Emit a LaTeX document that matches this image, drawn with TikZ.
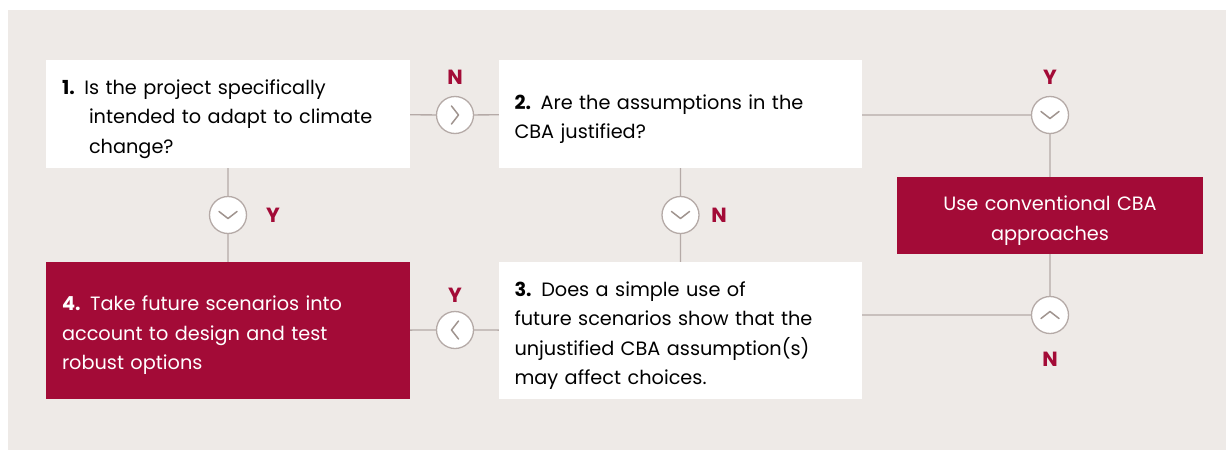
\documentclass[tikz,border=0pt]{standalone}
\usepackage{fontspec}
\setmainfont{Poppins}
\usetikzlibrary{positioning}
\definecolor{crimson}{HTML}{A30B37}
\definecolor{paper}{HTML}{EEEAE7}
\definecolor{wire}{HTML}{B5AAA7}
\definecolor{chev}{HTML}{A0948F}

\begin{document}
\begin{tikzpicture}[x=1pt,y=-1pt,
    qbox/.style={fill=white, minimum width=364pt, inner sep=0pt},
    abox/.style={qbox, fill=crimson},
    qtext/.style={align=left, text width=332pt, inner sep=0pt, yshift=-5pt,
      font=\fontsize{19.3}{29.5}\selectfont},
    atext/.style={qtext, text=white},
    gate/.style={circle, draw=wire, line width=1.3pt, fill=white, minimum size=37pt,
      inner sep=0pt, path picture={\draw[chev, line width=1.5pt, line cap=round,
        line join=round] (path picture bounding box.center) +(#1-111.3:9.66pt)
        -- +(#1:3.5pt) -- +(#1+111.3:9.66pt);}},
    yn/.style={text=crimson, font=\fontsize{20.5}{20.5}\selectfont\bfseries},
    wireline/.style={draw=wire, line width=1.3pt}]
  \useasboundingbox (0,0) rectangle (1232,450);
  \fill[paper] (8,10) rectangle (1226,450);

  % questions and answers
  \node[qbox, minimum height=108pt, label={[qtext]center:{\textbf{1.} Is the project
    specifically\\\hspace*{27pt}intended to adapt to climate\\\hspace*{27pt}change?}}]
    (q1) at (228,114) {};
  \node[qbox, minimum height=108pt, minimum width=363pt, label={[qtext]center:{%
    \textbf{2.} Are the assumptions in the\\CBA justified?}}] (q2) at (680.5,114) {};
  \node[qbox, minimum height=137pt, minimum width=363pt, label={[qtext]center:{%
    \textbf{3.} Does a simple use of\\future scenarios show that the\\unjustified
    CBA assumption(s)\\may affect choices.}}] (q3) at (680.5,330.5) {};
  \node[abox, minimum height=137pt, label={[atext]center:{\textbf{4.} Take future
    scenarios into\\account to design and test\\robust options}}] (a4) at (228,330.5) {};
  \node[abox, minimum width=306pt, minimum height=77pt, label={[atext, align=center,
    text width=274pt]center:{Use conventional CBA\\approaches}}] (conv) at (1050,215.5) {};

  % decision gates
  \node[gate=0] (g1) at (455,115) {};
  \node[gate=-90] (g2) at (1050,115) {};
  \node[gate=-90] (g3) at (228,215) {};
  \node[gate=-90] (g4) at (680.5,215) {};
  \node[gate=180] (g5) at (455,330) {};
  \node[gate=90] (g6) at (1050,315) {};

  \path[wireline] (q1) -- (g1) -- (q2)
    (q2.east|-g2) -- (g2) -- (conv)
    (q1) -- (g3) -- (a4)
    (q2) -- (g4) -- (q3)
    (q3) -- (g5) -- (a4)
    (q3.east|-g6) -- (g6) -- (conv);

  \node[yn] (l1) at (455,77) {N};
  \node[yn] (l2) at (1050,77) {Y};
  \node[yn] (l3) at (273,215) {Y};
  \node[yn] (l4) at (719,215) {N};
  \node[yn] (l5) at (455,295) {Y};
  \node[yn] (l6) at (1050,359) {N};
\end{tikzpicture}
\end{document}
